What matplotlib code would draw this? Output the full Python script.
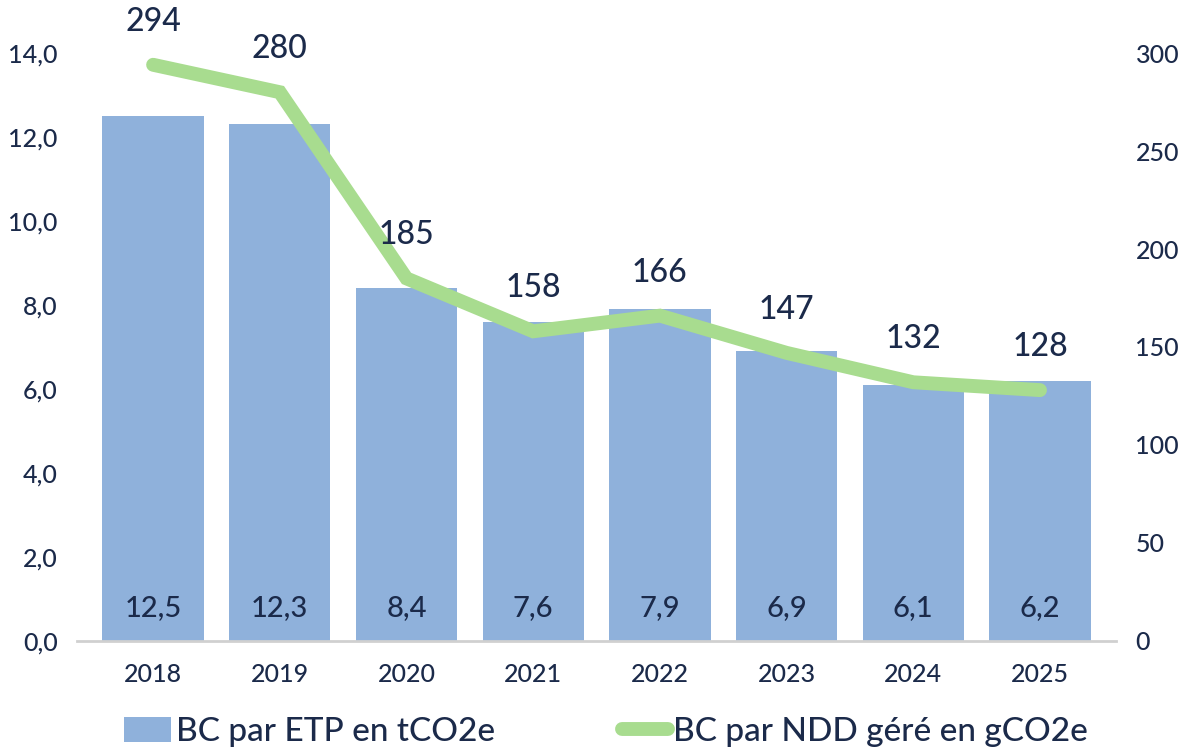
import matplotlib
matplotlib.use("Agg")
import matplotlib.pyplot as plt
import numpy as np

# data
years = ["2018", "2019", "2020", "2021", "2022", "2023", "2024", "2025"]
bc_etp = [12.5, 12.3, 8.4, 7.6, 7.9, 6.9, 6.1, 6.2]
bc_ndd = [294, 280, 185, 158, 166, 147, 132, 128]
left_ticks = [0, 2, 4, 6, 8, 10, 12, 14]
right_ticks = [0, 50, 100, 150, 200, 250, 300]

navy = "#1B2A4A"
bar_color = "#8FB1DB"
line_color = "#A8DC8F"

plt.rcParams["font.family"] = ["Lato", "DejaVu Sans"]
plt.rcParams["font.weight"] = "medium"

fig = plt.figure(figsize=(11.86, 7.51), dpi=100)
ax = fig.add_axes([0.065, 0.1465, 0.876, 0.7829])
ax2 = ax.twinx()

x = np.arange(len(years))
bars = ax.bar(x, bc_etp, width=0.8, color=bar_color, label="BC par ETP en tCO2e", zorder=2)
line, = ax2.plot(x, bc_ndd, color=line_color, lw=10, solid_capstyle="round",
                 solid_joinstyle="miter", label="BC par NDD géré en gCO2e", zorder=3)

ax.set_xlim(-0.6, 7.6)
ax.set_ylim(0, 14)
ax2.set_ylim(0, 300)
ax.set_xticks(x)
ax.set_xticklabels(years)
ax.set_yticks(left_ticks)
ax.set_yticklabels([f"{v:.1f}".replace(".", ",") for v in left_ticks])
ax2.set_yticks(right_ticks)
ax2.set_yticklabels([str(v) for v in right_ticks])

for a in (ax, ax2):
    for s in ["top", "right", "left", "bottom"]:
        a.spines[s].set_visible(False)
    a.tick_params(length=0, colors=navy, labelsize=18)
ax.spines["bottom"].set_visible(True)
ax.spines["bottom"].set_color("#D0D0D0")
ax.spines["bottom"].set_linewidth(2)
ax.tick_params(axis="x", pad=16, labelsize=18)
ax.tick_params(axis="y", pad=14)
ax2.tick_params(axis="y", pad=14)

# labels inside bars
for xi, v in zip(x, bc_etp):
    ax.annotate(f"{v:.1f}".replace(".", ","), (xi, 0), xytext=(0, 24),
                textcoords="offset points", ha="center", va="center",
                fontsize=21, color=navy)

# labels above line
for xi, v in zip(x, bc_ndd):
    ax2.annotate(str(v), (xi, v), xytext=(0, 31), textcoords="offset points",
                 ha="center", va="center", fontsize=23, color=navy,
                 annotation_clip=False)

fig.legend(handles=[bars, line], loc="lower center", bbox_to_anchor=(0.511, -0.035),
           ncol=2, frameon=False, fontsize=24, labelcolor=navy,
           handlelength=1.4, handleheight=0.8, handletextpad=0.15, columnspacing=3.8)

fig.savefig("out.png", dpi=100)
